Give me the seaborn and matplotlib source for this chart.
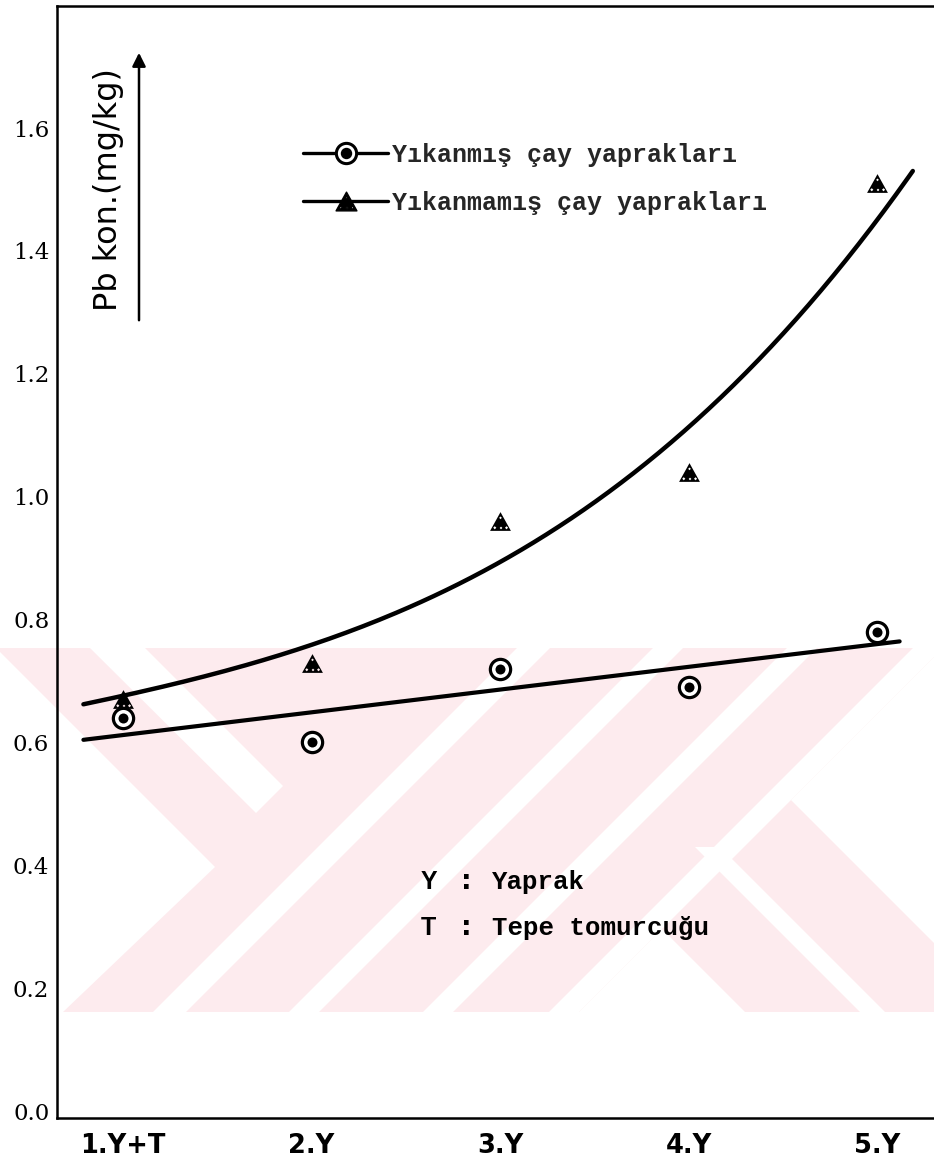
import numpy as np
import matplotlib
matplotlib.use("Agg")
import matplotlib.pyplot as plt
import seaborn as sns
from matplotlib.path import Path
from matplotlib.patches import Polygon
from matplotlib.lines import Line2D

# ---- data -------------------------------------------------------------
stages = ["1.Y+T", "2.Y", "3.Y", "4.Y", "5.Y"]
washed = [0.64, 0.60, 0.72, 0.69, 0.78]        # Yıkanmış çay yaprakları
unwashed = [0.67, 0.73, 0.96, 1.04, 1.51]      # Yıkanmamış çay yaprakları
# hand-drawn trend through the unwashed series (stage position, value)
trend_x = [-0.21, 0.0, 1.0, 2.0, 2.64, 3.0, 3.5, 4.0, 4.19]
trend_y = [0.663, 0.674, 0.762, 0.889, 1.027, 1.11, 1.263, 1.459, 1.524]
y_ticks = [0.0, 0.2, 0.4, 0.6, 0.8, 1.0, 1.2, 1.4, 1.6]
series_labels = ["Yıkanmış çay yaprakları", "Yıkanmamış çay yaprakları"]
y_label = "Pb kon.(mg/kg)"
key_letters = ["Y", "T"]
key_words = ["Yaprak", "Tepe tomurcuğu"]

# ---- style ------------------------------------------------------------
sns.set_style("white")
plt.rcParams["font.family"] = ["DejaVu Sans"]
MONO = ["Liberation Mono", "DejaVu Sans Mono"]
SERIF = ["DejaVu Serif"]

W, H = 934, 1164
fig = plt.figure(figsize=(W / 100, H / 100), dpi=100)
fig.patch.set_facecolor("white")


def fpt(x, y):
    """pixel position (from top-left) -> figure fraction"""
    return (x / W, 1 - y / H)


# ---- background watermark: pink band cut by white stripes -------------
PINK = "#fdebee"
band = [(0, 648), (W, 648), (W, 1012), (0, 1012)]
fig.add_artist(Polygon([fpt(*p) for p in band], closed=True, fc=PINK,
                       ec="none", transform=fig.transFigure, zorder=-2))
gaps = [
    [(0, 652), (215, 867), (63, 1012), (0, 1012)],
    [(90, 648), (145, 648), (283, 786), (256, 813)],
    [(517, 648), (550, 648), (186, 1012), (153, 1012)],
    [(653, 648), (683, 648), (319, 1012), (289, 1012)],
    [(787, 648), (817, 648), (453, 1012), (423, 1012)],
    [(913, 648), (943, 648), (579, 1012), (549, 1012)],
    [(934, 657), (791, 800), (934, 943)],
    [(695, 847), (720, 847), (885, 1012), (860, 1012)],
    [(579, 1012), (745, 1012), (662, 929)],
]
for g in gaps:
    fig.add_artist(Polygon([fpt(*p) for p in g], closed=True, fc="white",
                           ec="none", transform=fig.transFigure, zorder=-1))

# ---- axes -------------------------------------------------------------
left, top, bottom = 57, 6, 1118
ax = fig.add_axes([left / W, 1 - bottom / H, (W - left) / W, (bottom - top) / H])
ax.set_facecolor("none")

x = np.arange(len(stages))

# straight trend for the washed series, smooth drawn trend for the unwashed one
lin = np.polyfit(x, washed, 1)
xw = np.linspace(-0.21, 4.12, 200)
sns.lineplot(x=xw, y=np.polyval(lin, xw), ax=ax, color="black", lw=3.0, zorder=2)
cub = np.polyfit(trend_x, trend_y, 3)
xu = np.linspace(trend_x[0], trend_x[-1], 200)
sns.lineplot(x=xu, y=np.polyval(cub, xu), ax=ax, color="black", lw=3.2, zorder=2)

# triangle marker with small holes
tri_verts = [(0, 0.9), (-1, -0.9), (1, -0.9), (0, 0.9)]
tri_codes = [Path.MOVETO, Path.LINETO, Path.LINETO, Path.CLOSEPOLY]
for cx, cy, r in [(0, 0.35, 0.13), (-0.55, -0.6, 0.15), (0.05, -0.62, 0.13), (0.58, -0.6, 0.15)]:
    tri_verts += [(cx, cy + r), (cx + r, cy), (cx, cy - r), (cx - r, cy), (cx, cy + r)]
    tri_codes += [Path.MOVETO, Path.LINETO, Path.LINETO, Path.LINETO, Path.CLOSEPOLY]
tri_marker = Path(tri_verts, tri_codes)

RING = 14.6
DOT = 7.2
TRI = 15.0
sns.scatterplot(x=x, y=washed, ax=ax, marker="o", s=RING ** 2, facecolor="white",
                edgecolor="black", linewidth=2.3, zorder=3)
sns.scatterplot(x=x, y=washed, ax=ax, marker="o", s=DOT ** 2, color="black",
                linewidth=0, zorder=4)
sns.scatterplot(x=x, y=unwashed, ax=ax, marker=tri_marker, s=TRI ** 2, color="black",
                linewidth=0, zorder=3)

ax.set_xlim((left - 123) / 188.5, (W - 123) / 188.5)
ax.set_ylim((1111 - bottom) / 614.3, (1111 - top) / 614.3)

ax.set_xticks(x)
ax.set_xticklabels(stages, fontweight="bold", fontsize=18.5)
ax.set_yticks(y_ticks)
ax.set_yticklabels([f"{v:.1f}" for v in y_ticks], fontfamily=SERIF, fontsize=16.5)
ax.tick_params(axis="x", direction="in", length=8, width=1.5, pad=11, colors="black")
ax.tick_params(axis="y", direction="out", length=5, width=1.5, pad=0.5, colors="black")
ax.set_xlabel("")
ax.set_ylabel("")

for side in ["left", "top", "bottom"]:
    ax.spines[side].set_visible(True)
    ax.spines[side].set_color("black")
    ax.spines[side].set_linewidth(1.8)
ax.spines["right"].set_visible(False)

# ---- legend -----------------------------------------------------------
ring_h = Line2D([], [], color="black", lw=2.4, marker="o", ms=RING,
                mfc="white", mec="black", mew=2.2)
dot_h = Line2D([], [], color="black", lw=0, marker="o", ms=DOT)
tri_h = Line2D([], [], color="black", lw=2.4, marker=tri_marker, ms=TRI)
leg = ax.legend([(ring_h, dot_h), tri_h], series_labels,
                loc="upper left", bbox_to_anchor=fpt(303, 143),
                bbox_transform=fig.transFigure, frameon=False,
                prop={"family": MONO, "size": 18, "weight": "bold"},
                handlelength=3.4, handletextpad=0.15, labelspacing=0.95,
                borderpad=0, borderaxespad=0)

# ---- axis title with arrow -------------------------------------------
fig.text(*fpt(109, 190), y_label, rotation=90, ha="center", va="center",
         fontsize=23, color="black")
ax.annotate("", xy=fpt(139, 50), xycoords="figure fraction",
            xytext=fpt(139, 323), textcoords="figure fraction",
            arrowprops=dict(arrowstyle="-|>", color="black", lw=1.8,
                            mutation_scale=20))

# ---- key for the stage abbreviations ----------------------------------
for i, (letter, word) in enumerate(zip(key_letters, key_words)):
    yy = 882 + 46 * i
    fig.text(*fpt(421, yy), letter, ha="left", va="center", fontsize=18,
             fontfamily=["Liberation Sans", "DejaVu Sans"], fontweight="bold",
             color="black")
    fig.text(*fpt(461, yy), ":", ha="left", va="center", fontsize=19,
             fontweight="bold", color="black")
    fig.text(*fpt(492, yy), word, ha="left", va="center", fontsize=18.5,
             fontfamily=MONO, fontweight="bold", color="black")

fig.savefig("out.png", dpi=100, facecolor="white")
